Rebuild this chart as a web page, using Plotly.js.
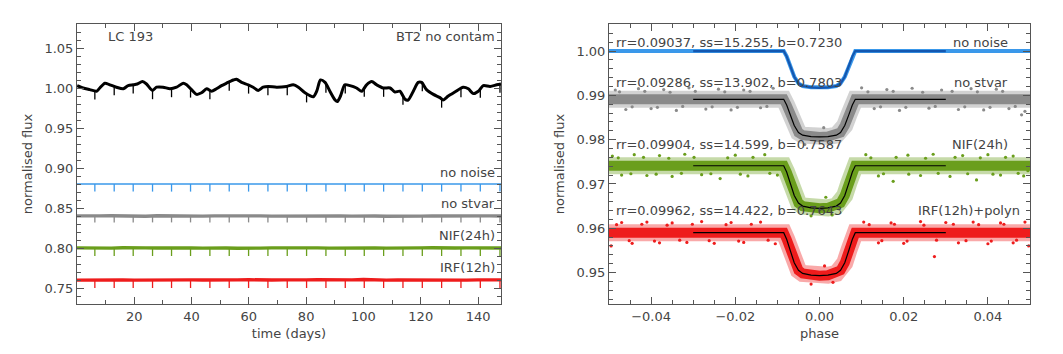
<!DOCTYPE html>
<html>
<head>
<meta charset="utf-8">
<script src="https://cdn.plot.ly/plotly-3.0.1.min.js"></script>
<style>
  html, body { margin: 0; padding: 0; background: #fff; }
  #chart { width: 1063px; height: 354px; }
</style>
</head>
<body>
<div id="chart"></div>
<script>
// ---- left panel: light curves vs time ----
const lcTime = [0.1, 2.2, 4.5, 6.9, 8.0, 9.8, 11.5, 13.8, 16.2, 17.9,
  19.7, 21.1, 22.9, 24.3, 26.4, 27.8, 30.1, 32.5, 34.8, 37.1,
  38.3, 40.0, 41.8, 43.5, 45.3, 47.0, 48.7, 50.5, 52.2, 54.6,
  55.7, 57.5, 59.8, 61.5, 63.3, 65.0, 66.8, 69.7, 73.2, 75.5,
  77.3, 79.6, 82.5, 83.7, 85.0, 86.6, 88.3, 90.1, 90.9, 92.0,
  93.5, 95.3, 97.6, 99.4, 101.1, 102.9, 104.6, 106.9, 109.3, 111.0,
  112.7, 114.5, 115.6, 117.4, 119.1, 120.3, 122.0, 124.4, 126.7, 127.8,
  129.6, 131.9, 134.8, 136.6, 138.3, 140.1, 141.8, 144.2, 146.5, 148.0];
const lcFlux = [1.003, 1.000, 0.998, 0.996, 1.000, 1.006, 1.004, 1.001, 0.999, 1.003,
  1.004, 1.005, 1.008, 1.005, 0.997, 1.001, 1.001, 0.999, 1.001, 1.006,
  1.004, 0.998, 0.992, 0.994, 0.999, 0.996, 0.999, 1.003, 1.006, 1.010,
  1.011, 1.007, 1.004, 1.001, 0.997, 1.001, 1.002, 1.001, 1.002, 1.004,
  1.001, 0.994, 0.989, 0.996, 1.010, 1.007, 0.996, 0.985, 0.983, 0.990,
  1.004, 1.003, 1.000, 0.996, 1.004, 1.008, 1.004, 1.000, 1.000, 0.995,
  0.996, 0.986, 0.985, 0.996, 1.007, 1.007, 0.998, 0.992, 0.988, 0.985,
  0.990, 0.995, 1.001, 0.999, 0.993, 0.996, 1.003, 1.002, 1.004, 1.005];

const transitTimes = [6.28, 13.03, 19.66, 26.41, 33.04, 39.67, 46.42, 53.17, 59.92, 66.67, 73.41,
  80.16, 86.91, 93.66, 100.29, 107.04, 113.79, 120.54, 127.28, 134.03, 140.78, 147.64];
const lcDipTop = [0.9965, 1.002, 1.004, 0.997, 0.9995, 0.999, 0.997, 1.0076, 1.004, 1.002, 1.002,
  0.993, 1.005, 1.004, 1.000, 1.000, 0.990, 1.007, 0.9864, 0.9994, 0.9988, 1.005];
const lcDipBottom = [0.9855, 0.991, 0.993, 0.986, 0.9885, 0.988, 0.986, 0.9966, 0.993, 0.991, 0.991,
  0.982, 0.994, 0.993, 0.989, 0.989, 0.979, 0.996, 0.9754, 0.9884, 0.9878, 0.994];

const flatTime = [0, 4, 8, 12, 16, 20, 24, 28, 32, 36,
  40, 44, 48, 52, 56, 60, 64, 68, 72, 76,
  80, 84, 88, 92, 96, 100, 104, 108, 112, 116,
  120, 124, 128, 132, 136, 140, 144, 148];
const noNoiseFlux = [0.880, 0.880];
const noNoiseDip = 0.8705;
const noStvarFlux = [0.8402, 0.8398, 0.8401, 0.8404, 0.8399, 0.8401, 0.8397, 0.8403, 0.8400, 0.8398,
  0.8402, 0.8399, 0.8401, 0.8403, 0.8398, 0.8400, 0.8402, 0.8399, 0.8401, 0.8397,
  0.8400, 0.8403, 0.8399, 0.8401, 0.8398, 0.8402, 0.8400, 0.8397, 0.8401, 0.8403,
  0.8399, 0.8400, 0.8402, 0.8398, 0.8401, 0.8399, 0.8402, 0.8400];
const noStvarDip = 0.832;
const nifFlux = [0.8001, 0.7998, 0.8002, 0.7999, 0.8003, 0.7998, 0.8001, 0.8000, 0.8003, 0.7999,
  0.8001, 0.7998, 0.8002, 0.8000, 0.7997, 0.8002, 0.7999, 0.8001, 0.8003, 0.7998,
  0.8000, 0.8002, 0.7999, 0.8001, 0.7998, 0.8004, 0.8000, 0.7998, 0.8002, 0.7999,
  0.8001, 0.8003, 0.7999, 0.8000, 0.8002, 0.7998, 0.8001, 0.8000];
const nifDip = 0.790;
const irfFlux = [0.7598, 0.7601, 0.7603, 0.7599, 0.7602, 0.7598, 0.7600, 0.7603, 0.7601, 0.7599,
  0.7602, 0.7600, 0.7598, 0.7602, 0.7601, 0.7603, 0.7599, 0.7600, 0.7602, 0.7598,
  0.7601, 0.7603, 0.7600, 0.7599, 0.7602, 0.7606, 0.7601, 0.7599, 0.7602, 0.7600,
  0.7603, 0.7599, 0.7601, 0.7602, 0.7598, 0.7601, 0.7600, 0.7602];
const irfDip = 0.750;

// ---- right panel: phase folded transits ----
const modelPhase = [-0.03, -0.0085, -0.0078, -0.007, -0.006, -0.005, -0.004, -0.002, 0,
  0.002, 0.004, 0.005, 0.006, 0.007, 0.0078, 0.0085, 0.03];
const cloudPhase = [-0.05, -0.0085, -0.0078, -0.007, -0.006, -0.005, -0.004, -0.002, 0,
  0.002, 0.004, 0.005, 0.006, 0.007, 0.0078, 0.0085, 0.05];

const noNoiseModel = [1.0000, 1.0000, 0.9988, 0.9967, 0.9942, 0.9927, 0.9921, 0.9918, 0.9917,
  0.9918, 0.9921, 0.9927, 0.9942, 0.9967, 0.9988, 1.0000, 1.0000];
const noStvarModel = [0.9891, 0.9891, 0.9878, 0.9857, 0.9832, 0.9816, 0.9810, 0.9807, 0.9806,
  0.9807, 0.9810, 0.9816, 0.9832, 0.9857, 0.9878, 0.9891, 0.9891];
const nifModel = [0.9741, 0.9741, 0.9727, 0.9703, 0.9674, 0.9657, 0.9650, 0.9646, 0.9645,
  0.9646, 0.9650, 0.9657, 0.9674, 0.9703, 0.9727, 0.9741, 0.9741];
const irfModel = [0.9590, 0.9590, 0.9575, 0.9551, 0.9522, 0.9505, 0.9498, 0.9494, 0.9493,
  0.9494, 0.9498, 0.9505, 0.9522, 0.9551, 0.9575, 0.9590, 0.9590];

// centre of each point cloud
const noNoiseCloud = [1.0000, 1.0000, 0.9988, 0.9967, 0.9942, 0.9927, 0.9921, 0.9918, 0.9917,
  0.9918, 0.9921, 0.9927, 0.9942, 0.9967, 0.9988, 1.0000, 1.0000];
const noStvarCloud = [0.9891, 0.9891, 0.9878, 0.9857, 0.9832, 0.9816, 0.9810, 0.9807, 0.9806,
  0.9807, 0.9810, 0.9816, 0.9832, 0.9857, 0.9878, 0.9891, 0.9891];
const nifCloud = [0.9741, 0.9741, 0.9727, 0.9703, 0.9674, 0.9657, 0.9650, 0.9646, 0.9645,
  0.9646, 0.9650, 0.9657, 0.9674, 0.9703, 0.9727, 0.9741, 0.9741];
const irfCloud = [0.9590, 0.9590, 0.9575, 0.9551, 0.9522, 0.9505, 0.9498, 0.9494, 0.9493,
  0.9494, 0.9498, 0.9505, 0.9522, 0.9551, 0.9575, 0.9590, 0.9590];

// stray points at and beyond the edge of each cloud
const noStvarOutPhase = [-0.0485, -0.046, -0.043, -0.040, -0.037, -0.034, -0.031, -0.027, -0.024, -0.021,
  -0.018, -0.014, -0.011, -0.0035, 0.001, 0.0025, 0.010, 0.013, 0.016, 0.019,
  0.022, 0.026, 0.029, 0.033, 0.036, 0.039, 0.042, 0.045, 0.048, 0.0488,
  -0.0475, -0.0445, -0.0415, -0.0385, -0.0355, -0.0325, -0.0295, -0.0255, -0.0225, -0.0195,
  -0.0165, -0.0125, 0.0115, 0.0145, 0.0175, 0.0205, 0.0245, 0.0275, 0.0315, 0.0345,
  0.0375, 0.0405, 0.0435, 0.0465];
const noStvarOutFlux = [0.9912, 0.9868, 0.9915, 0.9870, 0.9913, 0.9866, 0.9917, 0.9869, 0.9914, 0.9867,
  0.9912, 0.9872, 0.9916, 0.9789, 0.9827, 0.9792, 0.9917, 0.9870, 0.9913, 0.9866,
  0.9916, 0.9871, 0.9912, 0.9868, 0.9915, 0.9867, 0.9914, 0.9870, 0.9856, 0.9864,
  0.9908, 0.9874, 0.9909, 0.9873, 0.9907, 0.9875, 0.9909, 0.9874, 0.9908, 0.9873,
  0.9909, 0.9875, 0.9908, 0.9874, 0.9909, 0.9873, 0.9907, 0.9875, 0.9909, 0.9874,
  0.9908, 0.9873, 0.9909, 0.9875];
const nifOutPhase = [-0.0492, -0.047, -0.044, -0.041, -0.038, -0.035, -0.032, -0.028, -0.0236, -0.020,
  -0.017, -0.013, -0.010, -0.002, 0.0015, 0.003, 0.011, 0.014, 0.0175, 0.021,
  0.024, 0.027, 0.031, 0.034, 0.0373, 0.040, 0.043, 0.046, 0.0485, 0.0495,
  -0.0478, -0.0448, -0.0418, -0.0388, -0.0358, -0.0328, -0.0298, -0.0258, -0.0218, -0.0188,
  -0.0158, -0.0118, 0.0122, 0.0152, 0.0182, 0.0212, 0.0252, 0.0282, 0.0322, 0.0352,
  0.0382, 0.0412, 0.0442, 0.0472];
const nifOutFlux = [0.9763, 0.9720, 0.9766, 0.9719, 0.9764, 0.9717, 0.9767, 0.9721, 0.9712, 0.9765,
  0.9718, 0.9766, 0.9720, 0.9628, 0.9670, 0.9630, 0.9766, 0.9718, 0.9706, 0.9765,
  0.9719, 0.9767, 0.9717, 0.9764, 0.9709, 0.9766, 0.9720, 0.9763, 0.9718, 0.9730,
  0.9759, 0.9723, 0.9760, 0.9722, 0.9758, 0.9724, 0.9760, 0.9723, 0.9759, 0.9722,
  0.9760, 0.9724, 0.9759, 0.9723, 0.9760, 0.9722, 0.9758, 0.9724, 0.9760, 0.9723,
  0.9759, 0.9722, 0.9760, 0.9724];
const irfOutPhase = [-0.0495, -0.047, -0.0445, -0.041, -0.038, -0.035, -0.0315, -0.028, -0.025, -0.021,
  -0.018, -0.014, -0.0105, -0.002, 0.0012, 0.0032, 0.0105, 0.014, 0.017, 0.020,
  0.024, 0.0273, 0.030, 0.033, 0.0365, 0.040, 0.043, 0.046, 0.0488, 0.0497,
  -0.0482, -0.0452, -0.0422, -0.0392, -0.0362, -0.0332, -0.0302, -0.0262, -0.0222, -0.0192,
  -0.0162, -0.0122, 0.0118, 0.0148, 0.0178, 0.0208, 0.0248, 0.0278, 0.0318, 0.0348,
  0.0378, 0.0408, 0.0438, 0.0468];
const irfOutFlux = [0.9560, 0.9613, 0.9566, 0.9614, 0.9567, 0.9612, 0.9568, 0.9615, 0.9566, 0.9613,
  0.9568, 0.9614, 0.9565, 0.9474, 0.9515, 0.9478, 0.9614, 0.9567, 0.9612, 0.9566,
  0.9615, 0.9536, 0.9613, 0.9567, 0.9614, 0.9565, 0.9612, 0.9567, 0.9614, 0.9560,
  0.9608, 0.9572, 0.9609, 0.9571, 0.9607, 0.9573, 0.9609, 0.9572, 0.9608, 0.9571,
  0.9609, 0.9573, 0.9608, 0.9572, 0.9609, 0.9571, 0.9607, 0.9573, 0.9609, 0.9572,
  0.9608, 0.9571, 0.9609, 0.9573];

const fitLabels = ['rr=0.09037, ss=15.255, b=0.7230', 'rr=0.09286, ss=13.902, b=0.7803',
  'rr=0.09904, ss=14.599, b=0.7587', 'rr=0.09962, ss=14.422, b=0.7643'];
const caseLabels = ['no noise', 'no stvar', 'NIF(24h)', 'IRF(12h)+polyn'];
const leftLabels = ['no noise', 'no stvar', 'NIF(24h)', 'IRF(12h)'];

const COLORS = {
  black: '#000000',
  blue: '#3a98ea',
  blueDark: '#1457b0',
  gray: '#8a8a8a',
  green: '#6a9e1c',
  red: '#ee1c1c',
  text: '#444444',
  axis: '#555555',
};
const FONT = 'DejaVu Sans, sans-serif';

function dipSegments(times, tops, bottoms) {
  const x = [], y = [];
  times.forEach((t, i) => {
    const top = Array.isArray(tops) ? tops[i] : tops;
    const bot = Array.isArray(bottoms) ? bottoms[i] : bottoms;
    x.push(t, t, null);
    y.push(top, bot, null);
  });
  return { x, y };
}

function line(x, y, color, width, extra = {}) {
  return { type: 'scatter', mode: 'lines', x, y, line: { color, width }, hoverinfo: 'skip', ...extra };
}

function dips(tops, bottoms, color) {
  const d = dipSegments(transitTimes, tops, bottoms);
  return line(d.x, d.y, color, 1.3);
}

const traces = [];

// left panel
traces.push(line(lcTime, lcFlux, COLORS.black, 3, { line: { color: COLORS.black, width: 3, shape: 'spline', smoothing: 0.7 } }));
traces.push(dips(lcDipTop, lcDipBottom, COLORS.black));
traces.push(line([flatTime[0], flatTime[flatTime.length - 1]], noNoiseFlux, COLORS.blue, 1.6));
traces.push(dips(noNoiseFlux[0], noNoiseDip, COLORS.blue));
[[noStvarFlux, noStvarDip, COLORS.gray], [nifFlux, nifDip, COLORS.green], [irfFlux, irfDip, COLORS.red]]
  .forEach(([flux, dip, color]) => {
    traces.push(line(flatTime, flux, color, 3.4));
    traces.push(dips(flux[0], dip, color));
  });

// right panel
const R = { xaxis: 'x2', yaxis: 'y2' };
traces.push(line(cloudPhase, noNoiseCloud, COLORS.blue, 4, R));
[[noStvarCloud, noStvarOutPhase, noStvarOutFlux, COLORS.gray],
 [nifCloud, nifOutPhase, nifOutFlux, COLORS.green],
 [irfCloud, irfOutPhase, irfOutFlux, COLORS.red]].forEach(([cloud, op, of, color]) => {
  traces.push(line(cloudPhase, cloud, color, 17, { ...R, opacity: 0.38 }));
  traces.push(line(cloudPhase, cloud, color, 10, R));
  traces.push({ type: 'scatter', mode: 'markers', x: op, y: of, ...R, hoverinfo: 'skip',
    marker: { color, size: 3.2, line: { width: 0 } } });
});
traces.push(line(modelPhase, noNoiseModel, COLORS.blueDark, 2.2, R));
[noStvarModel, nifModel, irfModel].forEach((m) => traces.push(line(modelPhase, m, COLORS.black, 1.2, R)));

function axis(overrides) {
  return {
    showline: true, linecolor: COLORS.axis, linewidth: 1, mirror: 'allticks',
    ticks: 'inside', ticklen: 7, tickcolor: COLORS.axis, tickwidth: 1,
    showgrid: false, zeroline: false,
    tickfont: { family: FONT, size: 13, color: COLORS.text },
    ...overrides,
  };
}

function note(text, x, y, xref, yref, anchor) {
  return { text, x, y, xref, yref, xanchor: anchor, yanchor: 'middle', showarrow: false,
    font: { family: FONT, size: 13, color: COLORS.text } };
}

const leftY = [0.8945, 0.8554, 0.8154, 0.7754];
const rightY = [1.0019, 0.99285, 0.9788, 0.9639];
const annotations = [
  note('LC 193', 10.0, 1.065, 'x', 'y', 'left'),
  note('BT2 no contam', 146.5, 1.065, 'x', 'y', 'right'),
  ...leftLabels.map((t, i) => note(t, 146.5, leftY[i], 'x', 'y', 'right')),
  ...fitLabels.map((t, i) => note(t, -0.0487, rightY[i], 'x2', 'y2', 'left')),
  ...caseLabels.map((t, i) => note(t, i === 3 ? 0.0482 : 0.0452, rightY[i], 'x2', 'y2', 'right')),
];

const layout = {
  width: 1063, height: 354,
  margin: { l: 0, r: 0, t: 0, b: 0 },
  paper_bgcolor: '#fff', plot_bgcolor: '#fff',
  showlegend: false,
  font: { family: FONT, color: COLORS.text },
  xaxis: axis({
    domain: [77 / 1063, 501 / 1063], range: [0.05, 148],
    tick0: 0, dtick: 20,
    minor: { dtick: 10, ticks: 'inside', ticklen: 4, tickcolor: COLORS.axis },
    title: { text: 'time (days)', standoff: 6, font: { family: FONT, size: 13, color: COLORS.text } },
  }),
  yaxis: axis({
    domain: [50 / 354, 330 / 354], range: [0.73, 1.08],
    tick0: 0.75, dtick: 0.05, tickformat: '.2f',
    minor: { dtick: 0.01, ticks: 'inside', ticklen: 4, tickcolor: COLORS.axis },
    title: { text: 'normalised flux', standoff: 8, font: { family: FONT, size: 13, color: COLORS.text } },
  }),
  xaxis2: axis({
    anchor: 'y2',
    domain: [609 / 1063, 1030 / 1063], range: [-0.05, 0.05],
    tick0: 0, dtick: 0.02, tickformat: '.2f',
    minor: { dtick: 0.005, ticks: 'inside', ticklen: 4, tickcolor: COLORS.axis },
    title: { text: 'phase', standoff: 6, font: { family: FONT, size: 13, color: COLORS.text } },
  }),
  yaxis2: axis({
    anchor: 'x2',
    domain: [50 / 354, 330 / 354], range: [0.9429, 1.0061],
    tick0: 0.95, dtick: 0.01, tickformat: '.2f',
    minor: { dtick: 0.002, ticks: 'inside', ticklen: 4, tickcolor: COLORS.axis },
    title: { text: 'normalised flux', standoff: 8, font: { family: FONT, size: 13, color: COLORS.text } },
  }),
  annotations,
};

Plotly.newPlot('chart', traces, layout, { staticPlot: true, displayModeBar: false });
</script>
</body>
</html>
